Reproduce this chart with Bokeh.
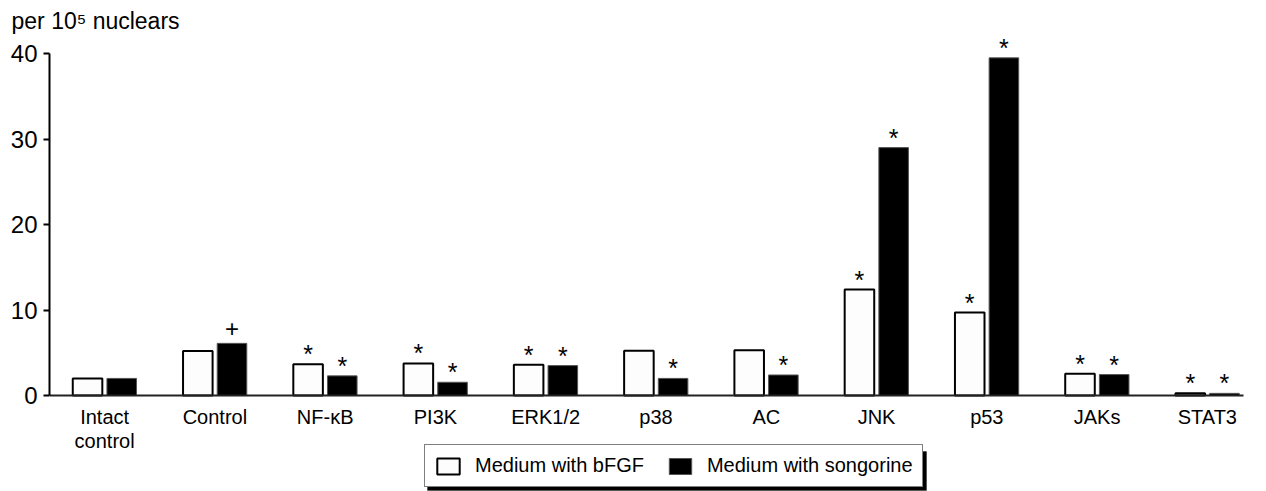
from bokeh.plotting import figure
from bokeh.models import (FactorRange, Range1d, FixedTicker, Legend, LegendItem,
                          ColumnDataSource, BoxAnnotation, CategoricalAxis)
from bokeh.transform import dodge
from bokeh.core.properties import value
from bokeh.embed import file_html
from bokeh.resources import INLINE

categories = ["Intact\ncontrol", "Control", "NF-κB", "PI3K", "ERK1/2", "p38",
              "AC", "JNK", "p53", "JAKs", "STAT3"]
bfgf = [2.0, 5.2, 3.65, 3.75, 3.6, 5.25, 5.3, 12.4, 9.7, 2.55, 0.25]
songorine = [2.0, 6.1, 2.3, 1.55, 3.5, 2.0, 2.4, 29.0, 39.5, 2.45, 0.25]
bfgf_marks = ["", "", "*", "*", "*", "", "", "*", "*", "*", "*"]
songorine_marks = ["", "+", "*", "*", "*", "*", "*", "*", "*", "*", "*"]
y_ticks = [0, 10, 20, 30, 40]
series_names = ["Medium with bFGF", "Medium with songorine"]
y_title = "per 10\u2075 nuclears"

FONT = "Liberation Sans"

src = ColumnDataSource(dict(cat=categories, bfgf=bfgf, song=songorine))
star_b = ColumnDataSource(dict(
    cat=[c for c, m in zip(categories, bfgf_marks) if m == "*"],
    y=[v for v, m in zip(bfgf, bfgf_marks) if m == "*"],
    t=[m for m in bfgf_marks if m == "*"]))
star_s = ColumnDataSource(dict(
    cat=[c for c, m in zip(categories, songorine_marks) if m == "*"],
    y=[v for v, m in zip(songorine, songorine_marks) if m == "*"],
    t=[m for m in songorine_marks if m == "*"]))
plus_s = ColumnDataSource(dict(
    cat=[c for c, m in zip(categories, songorine_marks) if m == "+"],
    y=[v for v, m in zip(songorine, songorine_marks) if m == "+"],
    t=[m for m in songorine_marks if m == "+"]))

p = figure(x_range=FactorRange(*categories, range_padding=0),
           y_range=Range1d(-11.23, 42.0),
           width=1266, height=491, output_backend="svg", toolbar_location=None,
           min_border_left=49, min_border_right=4, min_border_top=36,
           min_border_bottom=0, x_axis_type=None)
p.outline_line_color = None
p.xgrid.grid_line_color = None
p.ygrid.grid_line_color = None
p.background_fill_color = "white"

p.title.text = y_title
p.title.align = "left"
p.title.offset = -38
p.title.text_font = FONT
p.title.text_font_size = "23px"
p.title.text_font_style = "normal"
p.title.text_color = "black"
p.title.standoff = 6

off = 0.155
w = 0.268
r1 = p.vbar(x=dodge("cat", -off, range=p.x_range), top="bfgf", width=w, source=src,
            fill_color="#fdfdfd", line_color="black", line_width=2)
r2 = p.vbar(x=dodge("cat", off, range=p.x_range), top="song", width=w, source=src,
            fill_color="black", line_color="#555555", line_width=1)

for s, o in ((star_b, -off), (star_s, off)):
    p.text(x=dodge("cat", o, range=p.x_range), y="y", text="t", source=s,
           text_align="center", text_baseline="alphabetic", text_font=value(FONT),
           text_font_size="25px", text_color="black", y_offset=-10)
p.text(x=dodge("cat", off, range=p.x_range), y="y", text="t", source=plus_s,
       text_align="center", text_baseline="alphabetic", text_font=value(FONT),
       text_font_size="24px", text_color="black", y_offset=-15)

# axes
xaxis = CategoricalAxis(bounds=(0, 10.83), fixed_location=0)
xaxis.axis_line_width = 2
xaxis.axis_line_color = "#222222"
xaxis.major_tick_line_color = None
xaxis.major_tick_out = 0
xaxis.major_tick_in = 0
xaxis.minor_tick_line_color = None
xaxis.major_label_text_font = FONT
xaxis.major_label_text_font_size = "20px"
xaxis.major_label_text_color = "black"
xaxis.major_label_text_line_height = 1.1
xaxis.major_label_standoff = 10
p.add_layout(xaxis, "below")

ya = p.yaxis[0]
ya.ticker = FixedTicker(ticks=y_ticks)
ya.bounds = (0, 40)
ya.axis_line_width = 2
ya.axis_line_color = "black"
ya.major_tick_line_width = 2
ya.major_tick_out = 6
ya.major_tick_in = 0
ya.minor_tick_line_color = None
ya.major_label_text_font = FONT
ya.major_label_text_font_size = "24px"
ya.major_label_text_color = "black"
ya.major_label_standoff = 6

# legend shadow
p.add_layout(BoxAnnotation(left=378, right=877, bottom=1, top=40,
                           left_units="screen", right_units="screen",
                           bottom_units="screen", top_units="screen",
                           fill_color="black", fill_alpha=1, line_color="black"))

legend = Legend(items=[LegendItem(label=series_names[0], renderers=[r1]),
                       LegendItem(label=series_names[1], renderers=[r2])],
                orientation="horizontal", location=(375, 4),
                label_text_font=FONT, label_text_font_size="20px",
                label_text_color="black", glyph_width=28, glyph_height=20,
                label_standoff=13, spacing=22, padding=9, margin=0,
                border_line_color="black", border_line_width=1.5,
                background_fill_color="white", background_fill_alpha=1)
p.add_layout(legend, "center")

open("out.html", "w").write(file_html(p, INLINE))
